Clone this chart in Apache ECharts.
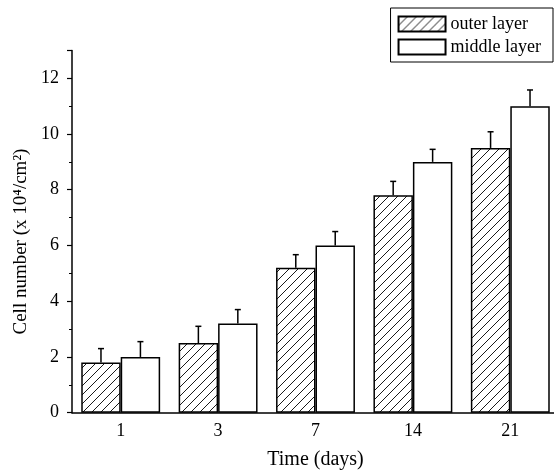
<!DOCTYPE html>
<html>
<head>
<meta charset="utf-8">
<script src="https://cdn.jsdelivr.net/npm/echarts@6/dist/echarts.min.js"></script>
<style>
  html, body { margin: 0; padding: 0; background: #fff; }
  #chart { width: 554px; height: 472px; }
</style>
</head>
<body>
<div id="chart"></div>
<script>
// bar chart with error bars
var days = ['1', '3', '7', '14', '21'];
var outerLayer = [1.8, 2.5, 5.2, 7.8, 9.5];
var middleLayer = [2.0, 3.2, 6.0, 9.0, 11.0];
var outerErr = [0.5, 0.6, 0.47, 0.5, 0.58];
var middleErr = [0.55, 0.5, 0.5, 0.45, 0.58];

(function(){
    var chart = echarts.init(document.getElementById('chart'));
    var font = 'Liberation Serif';
    var catGap = 0.19;

    // diagonal hatch
    var hatch = document.createElement('canvas');
    hatch.width = 9;
    hatch.height = 9;
    var ctx = hatch.getContext('2d');
    ctx.fillStyle = '#fff';
    ctx.fillRect(0, 0, 9, 9);
    ctx.strokeStyle = '#000';
    ctx.lineWidth = 0.9;
    ctx.beginPath();
    ctx.moveTo(-1, 10); ctx.lineTo(10, -1);
    ctx.moveTo(-1, 1); ctx.lineTo(1, -1);
    ctx.moveTo(8, 10); ctx.lineTo(10, 8);
    ctx.stroke();

    function errData(vals, errs) {
        return vals.map(function (v, i) { return [i, v, errs[i]]; });
    }

    function errRender(sign) {
        return function (params, api) {
            var i = api.value(0), v = api.value(1), e = api.value(2);
            var base = api.coord([i, v]);
            var top = api.coord([i, v + e]);
            var bw = api.size([1, 0])[0] * (1 - catGap) / 2;
            var cx = base[0] + sign * bw / 2;
            var style = { stroke: '#000', lineWidth: 1.5 };
            return {
                type: 'group',
                children: [
                    { type: 'line', shape: { x1: cx, y1: base[1], x2: cx, y2: top[1] }, style: style },
                    { type: 'line', shape: { x1: cx - 3, y1: top[1], x2: cx + 3, y2: top[1] }, style: style }
                ]
            };
        };
    }

    var option = {
        animation: false,
        backgroundColor: '#fff',
        legend: {
            data: ['outer layer', 'middle layer'],
            orient: 'vertical',
            right: 1,
            top: 8,
            padding: [7, 12, 6, 7],
            itemGap: 5,
            itemWidth: 47,
            itemHeight: 15,
            icon: 'rect',
            borderColor: '#000',
            borderWidth: 1,
            textStyle: { fontFamily: font, fontSize: 18, color: '#000' }
        },
        grid: {
            left: 72,
            top: 50.4,
            bottom: 59.3,
            width: 487,
            outerBoundsMode: 'none'
        },
        xAxis: {
            type: 'category',
            data: days,
            name: 'Time (days)',
            nameLocation: 'middle',
            nameGap: 37,
            nameTextStyle: { fontFamily: font, fontSize: 20, color: '#000' },
            axisLine: { lineStyle: { color: '#000', width: 1.5 } },
            axisTick: { alignWithLabel: true, length: 5, lineStyle: { color: '#000', width: 1.2 } },
            axisLabel: { fontFamily: font, fontSize: 18, color: '#000', margin: 10 }
        },
        yAxis: {
            type: 'value',
            min: 0,
            max: 13,
            interval: 2,
            name: 'Cell number (x 10⁴/cm²)',
            nameLocation: 'middle',
            nameGap: 34,
            nameTextStyle: { fontFamily: font, fontSize: 19, color: '#000', padding: [0, 20, 0, 0] },
            splitLine: { show: false },
            axisLine: { show: true, lineStyle: { color: '#000', width: 1.5 } },
            axisTick: { show: true, length: 5, lineStyle: { color: '#000', width: 1.2 } },
            minorTick: { show: true, splitNumber: 2, length: 3, lineStyle: { color: '#000', width: 1 } },
            axisLabel: { fontFamily: font, fontSize: 18, color: '#000', margin: 13, showMaxLabel: false }
        },
        series: [
            {
                name: 'outer layer',
                type: 'bar',
                data: outerLayer,
                barGap: '0%',
                barCategoryGap: (catGap * 100) + '%',
                itemStyle: {
                    color: { image: hatch, repeat: 'repeat' },
                    borderColor: '#000',
                    borderWidth: 1.5
                }
            },
            {
                name: 'middle layer',
                type: 'bar',
                data: middleLayer,
                barGap: '0%',
                barCategoryGap: (catGap * 100) + '%',
                itemStyle: {
                    color: '#fff',
                    borderColor: '#000',
                    borderWidth: 1.5
                }
            },
            {
                type: 'custom',
                renderItem: errRender(-1),
                data: errData(outerLayer, outerErr),
                z: 3
            },
            {
                type: 'custom',
                renderItem: errRender(1),
                data: errData(middleLayer, middleErr),
                z: 3
            }
        ]
    };

    chart.setOption(option);
})();
</script>
</body>
</html>
